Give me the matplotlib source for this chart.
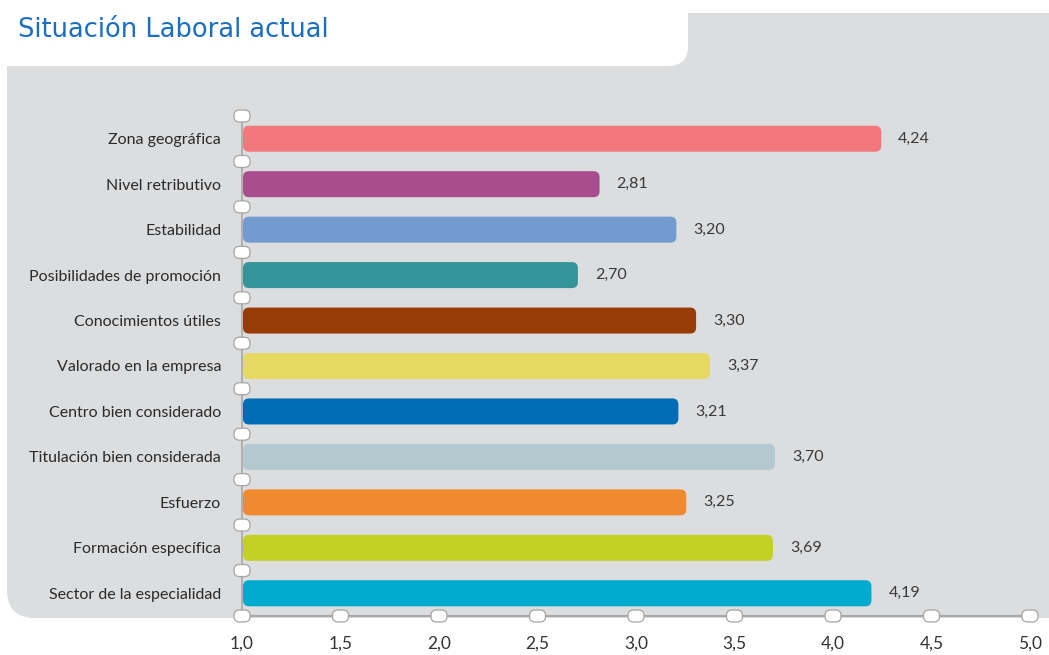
import matplotlib
matplotlib.use("Agg")
import matplotlib.pyplot as plt
from matplotlib.patches import FancyBboxPatch

categories = ["Zona geográfica", "Nivel retributivo", "Estabilidad",
              "Posibilidades de promoción", "Conocimientos útiles",
              "Valorado en la empresa", "Centro bien considerado",
              "Titulación bien considerada", "Esfuerzo",
              "Formación específica", "Sector de la especialidad"]
values = [4.24, 2.81, 3.20, 2.70, 3.30, 3.37, 3.21, 3.70, 3.25, 3.69, 4.19]
colors = ["#F2787E", "#A84D8E", "#729BD2", "#35939A", "#983C05",
          "#E7D864", "#006CB5", "#B3C9CF", "#EF8A30", "#C2D123", "#00A9CE"]
xticks = [1.0, 1.5, 2.0, 2.5, 3.0, 3.5, 4.0, 4.5, 5.0]
title = "Situación Laboral actual"

W, H = 1049, 655
fig = plt.figure(figsize=(W / 100, H / 100), dpi=100)
fig.patch.set_facecolor("white")

# background decoration axes in pixel coordinates
bg = fig.add_axes([0, 0, 1, 1])
bg.set_xlim(0, W)
bg.set_ylim(H, 0)
bg.axis("off")
bg.add_patch(FancyBboxPatch((7, 13), W + 40, 605, boxstyle="round,pad=0,rounding_size=28",
                            facecolor="#DCDDDF", edgecolor="none"))
bg.add_patch(FancyBboxPatch((-40, -40), 728, 106, boxstyle="round,pad=0,rounding_size=20",
                            facecolor="white", edgecolor="none"))
bg.text(18, 30, title, fontsize=18.5, color="#1B6EC2", va="center", ha="left",
        family="DejaVu Sans")

# main chart axes
x0, x1 = 242, 1030
ytop, ybot = 116, 616
ax = fig.add_axes([x0 / W, 1 - ybot / H, (x1 - x0) / W, (ybot - ytop) / H])
ax.patch.set_alpha(0)
n = len(categories)
ax.set_xlim(1.0, 5.0)
ax.set_ylim(n - 0.5, -0.5)
for s in ax.spines.values():
    s.set_visible(False)

px_x = (x1 - x0) / 4.0
px_y = (ybot - ytop) / n
aspect = px_x / px_y
bar_h = 26 / px_y
r = 6 / px_x

for i, (v, c) in enumerate(zip(values, colors)):
    ax.add_patch(FancyBboxPatch((1.0 + 1 / px_x, i - bar_h / 2), v - 1.0, bar_h,
                                boxstyle=f"round,pad=0,rounding_size={r}",
                                mutation_aspect=aspect, facecolor=c, edgecolor="none",
                                zorder=3))
    ax.text(v + 18 / px_x, i, f"{v:.2f}".replace(".", ","), va="center", ha="left",
            fontsize=11.5, color="#3A3A3A", family="Lato")

# axis lines
ax.plot([1.0, 1.0], [-0.5, n - 0.5], color="#A8A8A8", lw=1.2, zorder=2, clip_on=False)
ax.plot([1.0, 5.0], [n - 0.5, n - 0.5], color="#A8A8A8", lw=1.5, zorder=2, clip_on=False)

ow, oh = 16 / px_x, 12 / px_y
orr = 5.5 / px_x
def oval(x, y):
    ax.add_patch(FancyBboxPatch((x - ow / 2, y - oh / 2), ow, oh,
                                boxstyle=f"round,pad=0,rounding_size={orr}",
                                mutation_aspect=aspect, facecolor="white",
                                edgecolor="#A5A5A5", lw=0.9, zorder=4, clip_on=False))

for k in range(n + 1):
    oval(1.0, k - 0.5)
for t in xticks[1:]:
    oval(t, n - 0.5)

ax.set_yticks(range(n))
ax.set_yticklabels(categories, fontsize=11.5, color="#2A2A2A", family="Lato")
ax.tick_params(axis="y", length=0, pad=15)
ax.set_xticks(xticks)
ax.set_xticklabels([f"{t:.1f}".replace(".", ",") for t in xticks], fontsize=12.5,
                   color="#333333", family="Lato")
ax.tick_params(axis="x", length=0, pad=14)

fig.savefig("out.png", dpi=100, facecolor="white")
